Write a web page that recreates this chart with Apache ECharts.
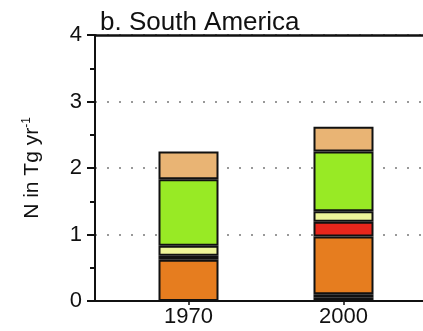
<!DOCTYPE html>
<html><head><meta charset="utf-8">
<script src="https://cdn.jsdelivr.net/npm/echarts@6/dist/echarts.min.js"></script>
<style>html,body{margin:0;padding:0;background:#fff}#c{width:423px;height:331px}</style>
</head><body><div id="c"></div>
<script>
const years = ['1970', '2000'];
const yTicks = [0, 1, 2, 3, 4];
// stacked components from bottom to top
const orangeLow = [0, 0.05];
const darkLow   = [0, 0.05];
const orange    = [0.62, 0.87];
const darkMid   = [0.06, 0];
const red       = [0, 0.22];
const lightYel  = [0.15, 0.16];
const green     = [1.00, 0.90];
const tan       = [0.42, 0.37];

const segs = [
  ['orangeLow', orangeLow, '#e67d1f'],
  ['darkLow', darkLow, '#2a140a'],
  ['orange', orange, '#e67d1f'],
  ['darkMid', darkMid, '#2a140a'],
  ['red', red, '#e8261c'],
  ['lightYel', lightYel, '#eef599'],
  ['green', green, '#98ea25'],
  ['tan', tan, '#e9b474']
];
const font = 'Liberation Sans, Arial, sans-serif';
const yMin = yTicks[0], yMax = yTicks[yTicks.length - 1];
const chart = echarts.init(document.getElementById('c'));
chart.setOption({
  animation: false,
  backgroundColor: '#fff',
  title: {text: 'b. South America', left: 95, top: 5,
    textStyle: {fontSize: 26, fontWeight: 'normal', color: '#111', fontFamily: font}},
  grid: [
    {left: 95, top: 35, bottom: 30, right: -10},
    {left: 111, top: 35, bottom: 30, right: 2}
  ],
  xAxis: [{
    gridIndex: 0, type: 'value', min: 0, max: 1, position: 'bottom',
    axisLine: {show: true, lineStyle: {color: '#111', width: 2}},
    axisTick: {show: false}, axisLabel: {show: false}, splitLine: {show: false}
  }, {
    gridIndex: 0, type: 'value', min: 0, max: 1, position: 'top',
    axisLine: {show: true, lineStyle: {color: '#111', width: 2.5}},
    axisTick: {show: false}, axisLabel: {show: false}, splitLine: {show: false}
  }, {
    gridIndex: 1, type: 'category', data: years, position: 'bottom',
    axisLine: {show: false},
    axisTick: {show: true, alignWithLabel: true, length: 4, lineStyle: {color: '#111', width: 1.5}},
    axisLabel: {fontSize: 22, color: '#111', fontFamily: font, margin: 5},
    splitLine: {show: false}
  }],
  yAxis: [{
    gridIndex: 0, type: 'value', min: yMin, max: yMax, interval: 1,
    name: '{a|N in Tg yr}{s|-1}', nameLocation: 'middle', nameGap: 52, nameRotate: 90,
    nameTextStyle: {rich: {
      a: {fontSize: 21, color: '#111', fontFamily: font},
      s: {fontSize: 12, color: '#111', fontFamily: font, verticalAlign: 'top', padding: [0, 0, 10, 0]}
    }},
    axisLine: {show: true, lineStyle: {color: '#111', width: 2}},
    axisTick: {show: true, length: 8, lineStyle: {color: '#111', width: 2}},
    minorTick: {show: true, splitNumber: 2, length: 5, lineStyle: {color: '#111', width: 2}},
    axisLabel: {fontSize: 22, color: '#111', fontFamily: font, margin: 13},
    splitLine: {show: true, lineStyle: {color: '#999', width: 2, type: [2, 10]}}
  }, {
    gridIndex: 1, type: 'value', min: yMin, max: yMax, interval: 1, show: false
  }],
  series: segs.map(([name, vals, color]) => ({
    name, type: 'bar', stack: 'total', barWidth: 60, xAxisIndex: 2, yAxisIndex: 1,
    data: vals.map(v => (v === 0 ? '-' : v)),
    itemStyle: {color, borderColor: '#111', borderWidth: 2}
  }))
});
</script></body></html>
